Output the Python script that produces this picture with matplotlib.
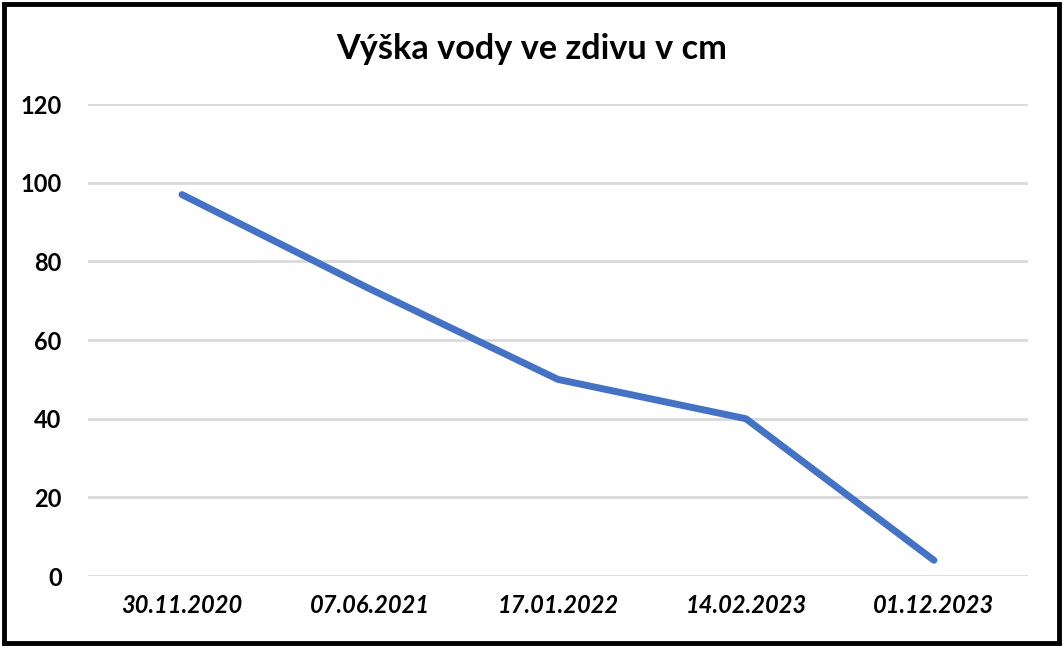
import matplotlib
matplotlib.use("Agg")
import matplotlib.pyplot as plt
from matplotlib.patches import Rectangle

dates = ["30.11.2020", "07.06.2021", "17.01.2022", "14.02.2023", "01.12.2023"]
vyska = [97, 73, 50, 40, 4]
y_ticks = [0, 20, 40, 60, 80, 100, 120]

plt.rcParams['font.family'] = ['Lato', 'DejaVu Sans']

fig = plt.figure(figsize=(10.63, 6.47), dpi=100)
ax = fig.add_axes([0.0828, 0.1097, 0.967 - 0.0828, 0.839 - 0.1097])

x = range(len(dates))
ax.plot(x, vyska, color='#4472C4', linewidth=5, solid_capstyle='round', zorder=3)

ax.set_xlim(-0.5, len(dates) - 0.5)
ax.set_ylim(0, 120)
ax.set_yticks(y_ticks)
ax.set_yticklabels([str(v) for v in y_ticks], fontsize=17, fontweight='bold')
ax.set_xticks(list(x))
ax.set_xticklabels(dates, fontsize=17, fontweight='bold', style='italic')
ax.tick_params(axis='both', length=0)
ax.tick_params(axis='y', pad=19)
ax.tick_params(axis='x', pad=13)

ax.grid(axis='y', color='#D9D9D9', linewidth=2)
ax.set_axisbelow(True)
for s in ax.spines.values():
    s.set_visible(False)

fig.text(0.5, 0.925, "Výška vody ve zdivu v cm", ha='center', va='center',
         fontsize=24.7, fontweight='bold')

# black frame around the chart
fig.patches.append(Rectangle((0.004, 0.006), 0.992, 0.988, transform=fig.transFigure,
                             fill=False, edgecolor='black', linewidth=3.5))

fig.savefig("out.png", dpi=100)
plt.close(fig)
